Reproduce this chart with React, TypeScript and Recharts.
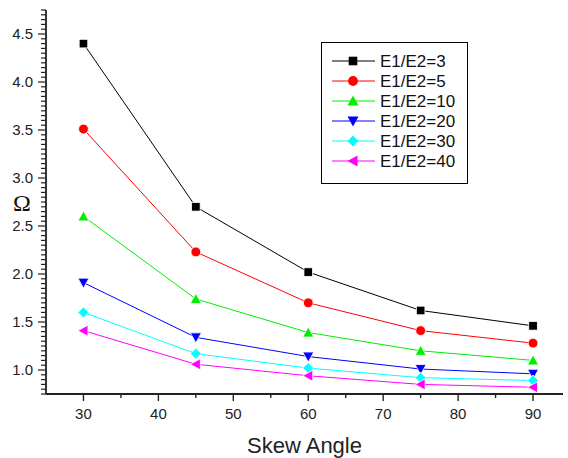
import { CartesianGrid, Legend, Line, LineChart, XAxis, YAxis } from 'recharts'

const angles = [30, 45, 60, 75, 90]
const ratio3 = [4.4, 2.7, 2.02, 1.62, 1.46]
const ratio5 = [3.51, 2.23, 1.7, 1.41, 1.28]
const ratio10 = [2.6, 1.74, 1.39, 1.2, 1.1]
const ratio20 = [1.91, 1.34, 1.14, 1.01, 0.96]
const ratio30 = [1.6, 1.17, 1.02, 0.92, 0.89]
const ratio40 = [1.41, 1.06, 0.94, 0.85, 0.82]

const yMajor = [1.0, 1.5, 2.0, 2.5, 3.0, 3.5, 4.0, 4.5]
const xMajor = [30, 40, 50, 60, 70, 80, 90]

// minor ticks every 0.05 on y, every 5 on x
const yTicks: number[] = []
for (let i = 15; i <= 95; i++) yTicks.push(Math.round(i * 5) / 100)
const xTicks: number[] = []
for (let v = 30; v <= 90; v += 5) xTicks.push(v)

type Kind = 'square' | 'circle' | 'up' | 'down' | 'diamond' | 'left'

const series: { key: string; name: string; color: string; kind: Kind; values: number[] }[] = [
  { key: 'r3', name: 'E1/E2=3', color: '#000000', kind: 'square', values: ratio3 },
  { key: 'r5', name: 'E1/E2=5', color: '#FF0000', kind: 'circle', values: ratio5 },
  { key: 'r10', name: 'E1/E2=10', color: '#00EE00', kind: 'up', values: ratio10 },
  { key: 'r20', name: 'E1/E2=20', color: '#0000FF', kind: 'down', values: ratio20 },
  { key: 'r30', name: 'E1/E2=30', color: '#00FFFF', kind: 'diamond', values: ratio30 },
  { key: 'r40', name: 'E1/E2=40', color: '#FF00FF', kind: 'left', values: ratio40 },
]

const data = angles.map((a, i) => {
  const row: Record<string, number> = { angle: a }
  series.forEach((s) => {
    row[s.key] = s.values[i]
  })
  return row
})

const FONT = '"Liberation Sans", Arial, sans-serif'
const AXIS = '#222'

function marker(kind: Kind, cx: number, cy: number, color: string, outline: boolean, key?: string) {
  const stroke = outline ? '#fff' : color
  const sw = outline ? 0.8 : 0
  const s = 5.5
  switch (kind) {
    case 'square':
      return <rect key={key} x={cx - 4.3} y={cy - 4.3} width={8.6} height={8.6} fill={color} stroke={stroke} strokeWidth={sw} />
    case 'circle':
      return <circle key={key} cx={cx} cy={cy} r={4.9} fill={color} stroke={stroke} strokeWidth={sw} />
    case 'up':
      return <polygon key={key} points={`${cx},${cy - s} ${cx - s},${cy + 4.5} ${cx + s},${cy + 4.5}`} fill={color} stroke={stroke} strokeWidth={sw} />
    case 'down':
      return <polygon key={key} points={`${cx},${cy + s} ${cx - s},${cy - 4.5} ${cx + s},${cy - 4.5}`} fill={color} stroke={stroke} strokeWidth={sw} />
    case 'diamond':
      return <polygon key={key} points={`${cx},${cy - s} ${cx + s},${cy} ${cx},${cy + s} ${cx - s},${cy}`} fill={color} stroke={stroke} strokeWidth={sw} />
    default:
      return <polygon key={key} points={`${cx - s},${cy} ${cx + 4.5},${cy - s} ${cx + 4.5},${cy + s}`} fill={color} stroke={stroke} strokeWidth={sw} />
  }
}

const isYMajor = (v: number) => yMajor.some((m) => Math.abs(m - v) < 1e-6)
const isXMajor = (v: number) => xMajor.includes(v)

function LeftTick(props: any) {
  const { x, y, payload } = props
  const v = Number(payload.value)
  const major = isYMajor(v)
  const ax = x + 13
  return (
    <g>
      <line x1={ax} x2={ax - (major ? 8 : 5)} y1={y} y2={y} stroke={AXIS} strokeWidth={1.2} />
      {major ? (
        <text x={x} y={y} dy={5} textAnchor="end" fontSize={15} fontFamily={FONT} fill="#222">
          {v.toFixed(1)}
        </text>
      ) : null}
    </g>
  )
}

function RightTick(props: any) {
  const { x, y, payload } = props
  const major = isYMajor(Number(payload.value))
  return <line x1={x} x2={x - (major ? 7 : 3)} y1={y} y2={y} stroke={AXIS} strokeWidth={1.2} />
}

function BottomTick(props: any) {
  const { x, y, payload } = props
  const v = Number(payload.value)
  const major = isXMajor(v)
  const ay = y - 11
  return (
    <g>
      <line x1={x} x2={x} y1={ay} y2={ay + (major ? 7 : 4)} stroke={AXIS} strokeWidth={1.4} />
      {major ? (
        <text x={x} y={y} dy={13.5} textAnchor="middle" fontSize={15} fontFamily={FONT} fill="#222">
          {v}
        </text>
      ) : null}
    </g>
  )
}

function TopTick(props: any) {
  const { x, y, payload } = props
  const major = isXMajor(Number(payload.value))
  return <line x1={x} x2={x} y1={y} y2={y + (major ? 7 : 4)} stroke={AXIS} strokeWidth={1.4} />
}

function LegendBox() {
  return (
    <svg width={147} height={142} style={{ display: 'block' }}>
      <rect x={0.5} y={0.5} width={146} height={141} fill="#fff" stroke="#000" strokeWidth={1} />
      {series.map((s, i) => {
        const cy = 19 + i * 20
        return (
          <g key={s.key}>
            <line x1={11} x2={54} y1={cy} y2={cy} stroke={s.color} strokeWidth={1} />
            {marker(s.kind, 32, cy, s.color, false)}
            <text x={59} y={cy + 6} fontSize={17} fontFamily={FONT} fill="#111">
              {s.name}
            </text>
          </g>
        )
      })}
    </svg>
  )
}

export default function App() {
  return (
    <div style={{ position: 'absolute', left: 0, top: 0, width: 568, height: 458, background: '#fff' }}>
      <LineChart width={568} height={458} data={data} margin={{ top: 10, right: 5, bottom: 0, left: 0 }}>
        <CartesianGrid stroke="none" />
        <XAxis
          dataKey="angle"
          type="number"
          domain={[25, 94]}
          allowDataOverflow
          ticks={xTicks}
          interval={0}
          height={64}
          tickSize={7}
          tickMargin={4}
          tickLine={false}
          axisLine={{ stroke: AXIS, strokeWidth: 1.8 }}
          tick={BottomTick}
          label={{
            content: ({ viewBox }: any) => (
              <text x={viewBox.x + viewBox.width / 2} y={viewBox.y + 59} textAnchor="middle" fontSize={22} fontFamily={FONT} fill="#222">
                Skew Angle
              </text>
            ),
          }}
        />
        <XAxis
          xAxisId="top"
          orientation="top"
          dataKey="angle"
          type="number"
          domain={[25, 94]}
          allowDataOverflow
          ticks={xTicks}
          interval={0}
          height={0}
          tickSize={0}
          tickMargin={0}
          tickLine={false}
          axisLine={{ stroke: AXIS, strokeWidth: 1.8 }}
          tick={TopTick}
        />
        <YAxis
          type="number"
          domain={[0.75, 4.75]}
          allowDataOverflow
          ticks={yTicks}
          interval={0}
          width={46}
          tickSize={8}
          tickMargin={5}
          tickLine={false}
          axisLine={{ stroke: AXIS, strokeWidth: 1.8 }}
          tick={LeftTick}
          label={{
            content: ({ viewBox }: any) => (
              <text x={viewBox.x + 22} y={viewBox.y + viewBox.height / 2 + 9} textAnchor="middle" fontSize={24} fontFamily='"Liberation Serif", "Times New Roman", serif' fill="#111">
                Ω
              </text>
            ),
          }}
        />
        <YAxis
          yAxisId="right"
          orientation="right"
          type="number"
          domain={[0.75, 4.75]}
          allowDataOverflow
          ticks={yTicks}
          interval={0}
          width={0}
          tickSize={0}
          tickMargin={0}
          tickLine={false}
          axisLine={{ stroke: AXIS, strokeWidth: 1.8 }}
          tick={RightTick}
        />
        {series.map((s) => (
          <Line
            key={s.key}
            dataKey={s.key}
            name={s.name}
            stroke={s.color}
            strokeWidth={1}
            isAnimationActive={false}
            dot={(p: any) => marker(s.kind, p.cx, p.cy, s.color, true, `${s.key}-${p.index}`)}
            activeDot={false}
          />
        ))}
        <Legend
          layout="vertical"
          align="center"
          verticalAlign="middle"
          content={() => <LegendBox />}
          wrapperStyle={{ position: 'absolute', left: 321, top: 42, width: 147, height: 142 }}
        />
      </LineChart>
    </div>
  )
}
